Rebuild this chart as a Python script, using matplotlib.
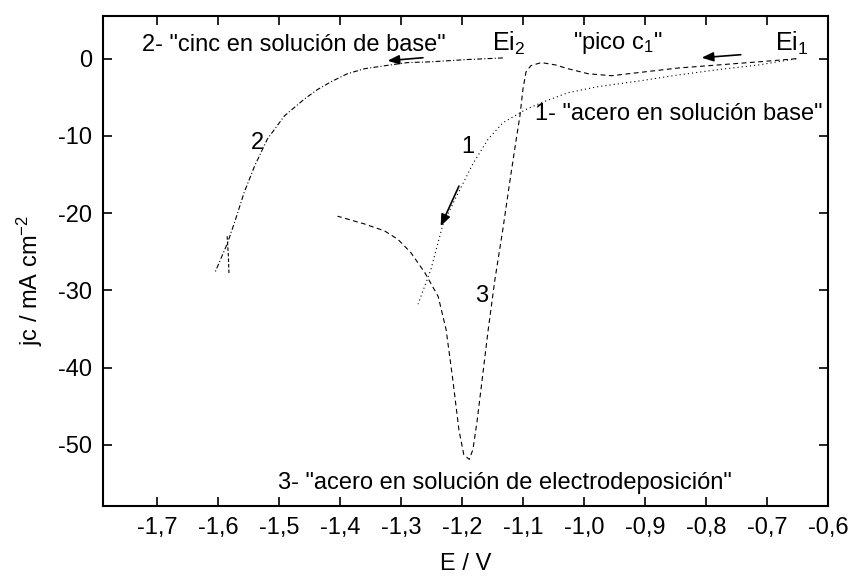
import matplotlib
matplotlib.use("Agg")
import matplotlib.pyplot as plt
import numpy as np

plt.rcParams['font.family'] = ['Liberation Sans', 'DejaVu Sans']
plt.rcParams['mathtext.fontset'] = 'custom'
plt.rcParams['mathtext.rm'] = 'Liberation Sans'
plt.rcParams['mathtext.it'] = 'Liberation Sans:italic'
plt.rcParams['mathtext.default'] = 'regular'
plt.rcParams['axes.unicode_minus'] = False
plt.rcParams['lines.scale_dashes'] = False

# curva 1: acero en solucion base (E / V, jc / mA cm-2)
e_acero_base = [-0.652, -0.713, -0.779, -0.845, -0.911, -0.976, -1.026, -1.067,
                -1.096, -1.133, -1.157, -1.182, -1.207, -1.231, -1.251, -1.272]
j_acero_base = [0.0, -0.8, -1.4, -2.1, -2.9, -3.6, -4.4, -5.6,
                -6.6, -8.3, -10.4, -13.6, -17.5, -21.4, -27.3, -31.8]

# curva 2: cinc en solucion de base
e_cinc = [-1.133, -1.190, -1.251, -1.289, -1.317, -1.360, -1.388, -1.415, -1.437,
          -1.458, -1.491, -1.519, -1.540, -1.557, -1.572, -1.585, -1.605]
j_cinc = [0.1, -0.1, -0.4, -0.5, -0.8, -1.3, -1.95, -3.0, -4.0,
          -5.2, -7.4, -10.4, -13.9, -17.3, -21.0, -24.0, -27.7]
e_cinc_vuelta = [-1.585, -1.583, -1.582]
j_cinc_vuelta = [-23.0, -25.5, -27.8]

# curva 3: acero en solucion de electrodeposicion
e_acero_elec = [-0.652, -0.713, -0.779, -0.845, -0.911, -0.955, -0.993, -1.026,
                -1.047, -1.070, -1.087, -1.095, -1.100, -1.105, -1.111, -1.121,
                -1.133, -1.146, -1.157, -1.167, -1.175, -1.182, -1.188, -1.197,
                -1.205, -1.215, -1.226, -1.239, -1.261, -1.284, -1.305, -1.327,
                -1.360, -1.404]
j_acero_elec = [0.0, -0.4, -0.8, -1.2, -1.8, -2.2, -1.95, -1.3,
                -0.8, -0.5, -0.9, -1.7, -3.9, -7.4, -10.4, -15.6,
                -22.1, -28.6, -35.1, -41.6, -46.8, -50.6, -51.9, -51.3,
                -48.1, -41.6, -35.1, -30.8, -27.7, -25.1, -23.4, -22.3,
                -21.4, -20.4]

x_ticks = [-1.7, -1.6, -1.5, -1.4, -1.3, -1.2, -1.1, -1.0, -0.9, -0.8, -0.7, -0.6]
y_ticks = [0, -10, -20, -30, -40, -50]

fig = plt.figure(figsize=(8.52, 5.80), dpi=100)
ax = fig.add_axes([0.1209, 0.1281, 0.8509, 0.8448])

c = 'black'
ax.plot(e_acero_base, j_acero_base, color=c, lw=0.8, dashes=(0.8, 2.2))
ax.plot(e_cinc, j_cinc, color=c, lw=0.8, dashes=(3.5, 1.6, 0.8, 1.6))
ax.plot(e_cinc_vuelta, j_cinc_vuelta, color=c, lw=0.8, dashes=(2.5, 1.5))
ax.plot(e_acero_elec, j_acero_elec, color=c, lw=0.8, dashes=(3.5, 2.5))

# flechas
arr = dict(arrowstyle='-|>,head_length=0.5,head_width=0.2', color='black', lw=1.2,
           mutation_scale=14, shrinkA=0, shrinkB=0)
ax.annotate('', xy=(-1.322, -0.26), xytext=(-1.264, 0.13), arrowprops=arr)
ax.annotate('', xy=(-0.807, 0.13), xytext=(-0.743, 0.52), arrowprops=arr)
ax.annotate('', xy=(-1.235, -21.7), xytext=(-1.205, -16.5), arrowprops=arr)

fs = 17
ax.text(-1.7246, 1.8, '2- "cinc en solución de base"', fontsize=fs, va='center')
ax.text(-1.151, 2.0, 'Ei$_2$', fontsize=fs + 1, va='center')
ax.text(-1.018, 2.0, '"pico c$_1$"', fontsize=fs, va='center')
ax.text(-0.687, 2.0, 'Ei$_1$', fontsize=fs + 1, va='center')
ax.text(-1.080, -7.2, '1- "acero en solución base"', fontsize=fs, va='center')
ax.text(-1.190, -11.45, '1', fontsize=fs, va='center', ha='center')
ax.text(-1.536, -10.9, '2', fontsize=fs, va='center', ha='center')
ax.text(-1.167, -30.8, '3', fontsize=fs, va='center', ha='center')
ax.text(-1.5016, -55.0, '3- "acero en solución de electrodeposición"', fontsize=fs, va='center')

ax.set_xlim(-1.7885, -0.6)
ax.set_ylim(-57.9, 5.57)
ax.set_xticks(x_ticks)
ax.set_xticklabels([('%.1f' % v).replace('.', ',') for v in x_ticks])
ax.set_yticks(y_ticks)
ax.set_yticklabels([str(v) for v in y_ticks])
ax.tick_params(direction='in', length=6.5, width=1.2, top=True, right=True,
               labelsize=fs, pad=8)
for s in ax.spines.values():
    s.set_linewidth(1.5)

ax.set_xlabel('E / V', fontsize=fs)
ax.set_ylabel('jc / mA cm$^{-2}$', fontsize=fs)
ax.xaxis.set_label_coords(0.5, -0.096)
ax.yaxis.set_label_coords(-0.08, 0.46)

fig.savefig('out.png', dpi=100)
